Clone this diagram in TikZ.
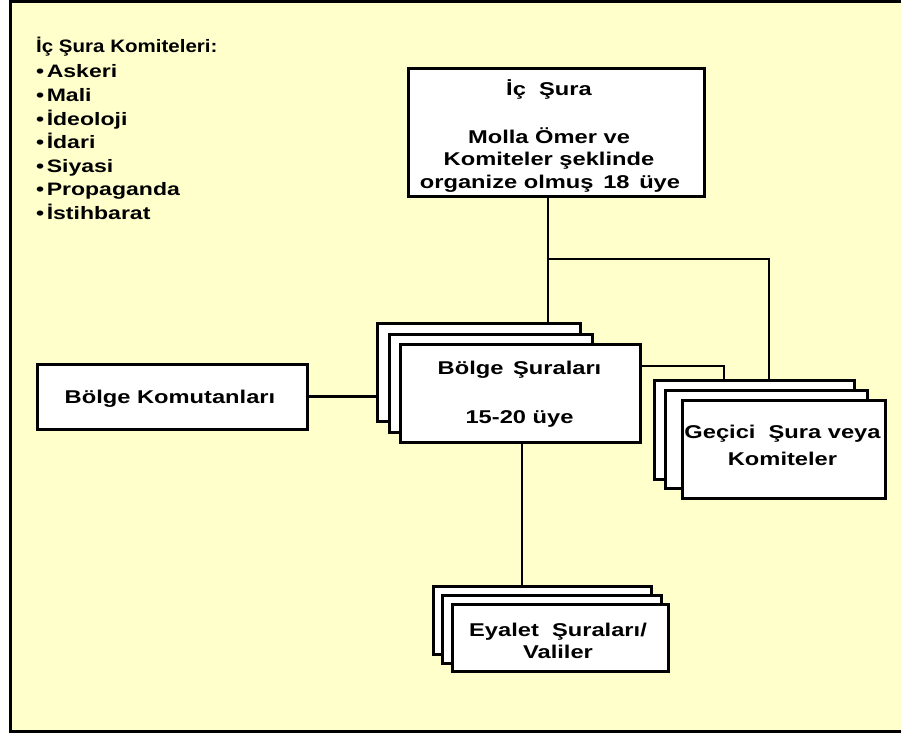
\documentclass[tikz,border=0pt]{standalone}
\usepackage{fontspec}
\setmainfont{Liberation Sans}[FakeStretch=1.28]
\newfontfamily\titlefont{Liberation Sans}[FakeStretch=1.14]
\definecolor{paper}{HTML}{FFFFCC}
\begin{document}
\begin{tikzpicture}[x=1pt,y=-1pt,
  card/.style={draw=black, fill=white, line width=2.6pt, inner sep=0pt, anchor=north west},
  wire/.style={draw=black, line width=2.8pt},
  lbl/.style={font=\bfseries\fontsize{18.5}{22}\selectfont, inner sep=0pt, anchor=base},
  listitem/.style={font=\bfseries\fontsize{18}{22}\selectfont, inner sep=0pt, anchor=base west},
]
\useasboundingbox (0,0) rectangle (901,733);
\fill[white] (0,0) rectangle (901,733);
\draw[fill=paper, line width=2.5pt] (10.5,1.5) rectangle (906,731.5);

% committees of the inner council
\node[listitem, font=\titlefont\bfseries\fontsize{18}{22}\selectfont] (ttl) at (36,53) {İç Şura Komiteleri:};
\foreach \w [count=\i] in {Askeri,Mali,İdeoloji,İdari,Siyasi,Propaganda,İstihbarat}
  \node[listitem] (li\i) at (36,{54.5+23.5*\i}) {•\kern2.5pt\w};

% inner council
\node[card, minimum width=296pt, minimum height=128pt] (ic) at (407,67) {};
\node[lbl] (icA) at (549,95.5) {İç\ \ Şura};
\node[lbl] (icB) at (549,143.5) {Molla Ömer ve};
\node[lbl] (icC) at (549,165.5) {Komiteler şeklinde};
\node[lbl] (icD) at (550,188) {organize\ olmuş\ \,18\ \,üye};

% regional councils (stack of three)
\node[card, minimum width=203pt, minimum height=98pt] (bs3) at (376,322) {};
\node[card, minimum width=203pt, minimum height=98pt] (bs2) at (388,333) {};
\node[card, minimum width=240pt, minimum height=98pt] (bs1) at (399,343) {};
\node[lbl] (bsA) at (519.5,374) {Bölge\ \,Şuraları};
\node[lbl] (bsB) at (519.5,423) {15-20 üye};

% regional commanders
\node[card, minimum width=270pt, minimum height=65pt] (bk) at (36,363) {};
\node[lbl] (bkA) at (170,403) {Bölge Komutanları};

% temporary councils (stack of three)
\node[card, minimum width=200pt, minimum height=99pt] (gc3) at (653,379) {};
\node[card, minimum width=202pt, minimum height=98pt] (gc2) at (664,389) {};
\node[card, minimum width=203pt, minimum height=98pt] (gc1) at (681,399) {};
\node[lbl] (gcA) at (782.5,438) {Geçici\ \ Şura veya};
\node[lbl] (gcB) at (782.5,465) {Komiteler};

% provincial councils (stack of three)
\node[card, minimum width=218pt, minimum height=68pt] (ev3) at (432,585) {};
\node[card, minimum width=219pt, minimum height=68pt] (ev2) at (441,594) {};
\node[card, minimum width=216pt, minimum height=67pt] (ev1) at (451,603) {};
\node[lbl] (evA) at (558,636) {Eyalet\ \ Şuraları/};
\node[lbl] (evB) at (558,658) {Valiler};

% connectors
\coordinate (jn) at (548,259);
\coordinate (gx) at (769,0);
\coordinate (bx) at (724,366);
\coordinate (ex) at (522,0);
\draw[wire] (jn |- ic.south) -- (jn |- bs3.north);
\draw[wire] (jn) -| (gx |- gc3.north);
\draw[wire] (bs1.east |- bx) -| (bx |- gc3.north);
\draw[wire] (bk.east) -- (bk.east -| bs3.west);
\draw[wire] (ex |- bs1.south) -- (ex |- ev3.north);
\end{tikzpicture}
\end{document}
